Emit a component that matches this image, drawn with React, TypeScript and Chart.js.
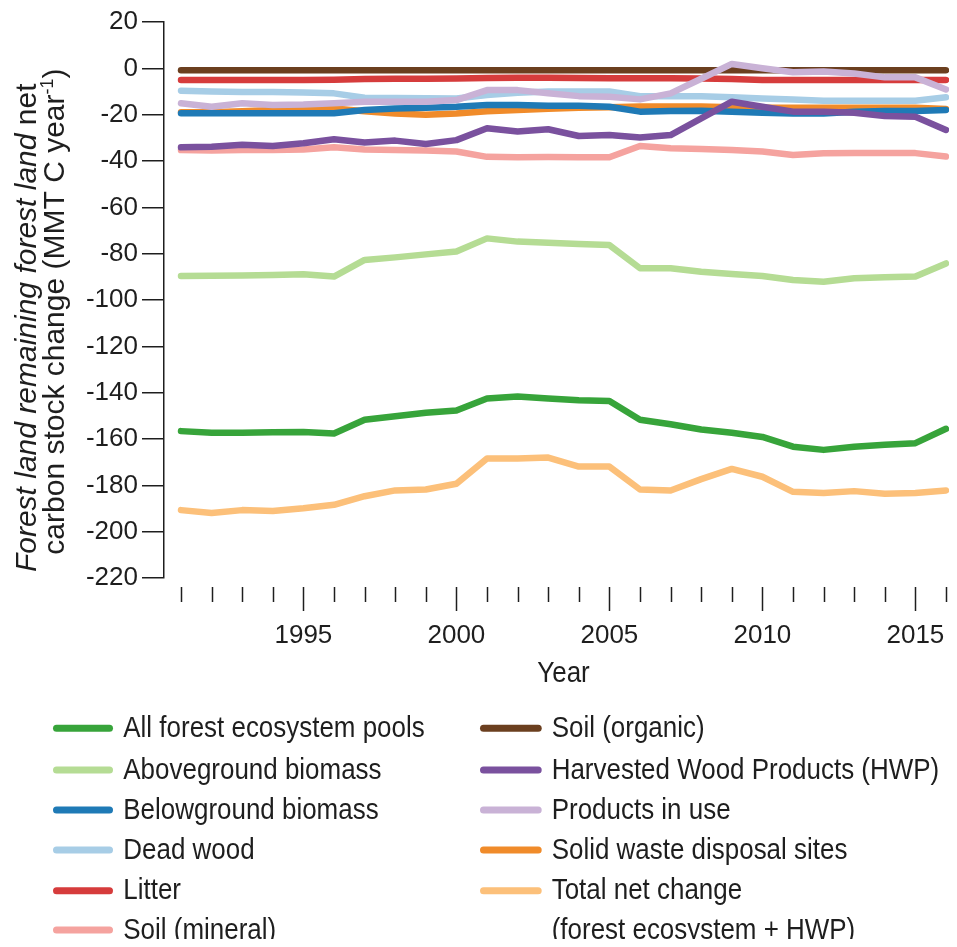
import { useEffect, useRef } from 'react';
import { Chart, registerables } from 'chart.js';

Chart.register(...registerables);

// ---------- data ----------
const YEARS = [
  1991, 1992, 1993, 1994, 1995, 1996, 1997, 1998, 1999, 2000, 2001, 2002, 2003,
  2004, 2005, 2006, 2007, 2008, 2009, 2010, 2011, 2012, 2013, 2014, 2015, 2016,
];
const X_LABEL_YEARS = [1995, 2000, 2005, 2010, 2015];
const Y_MIN = -220;
const Y_MAX = 20;
const Y_STEP = 20;

const ALL_FOREST = [
  -156.6, -157.3, -157.3, -157.1, -157.0, -157.6, -151.7, -150.2, -148.7, -147.7,
  -142.5, -141.7, -142.5, -143.3, -143.6, -151.7, -153.6, -155.9, -157.3, -159.1,
  -163.3, -164.7, -163.3, -162.5, -161.8, -155.6,
];
const ABOVEGROUND = [
  -89.6, -89.5, -89.4, -89.2, -88.9, -89.9, -82.7, -81.6, -80.3, -79.1,
  -73.4, -74.8, -75.3, -75.8, -76.3, -86.3, -86.3, -87.8, -88.8, -89.6,
  -91.4, -92.1, -90.6, -90.2, -89.9, -84.2,
];
const BELOWGROUND = [
  -19.4, -19.4, -19.4, -19.4, -19.4, -19.4, -18.0, -17.3, -17.0, -16.6,
  -15.8, -15.8, -16.1, -16.2, -16.6, -18.7, -18.4, -18.3, -18.7, -19.2,
  -19.5, -19.5, -18.7, -18.4, -18.4, -18.0,
];
const DEAD_WOOD = [
  -9.7, -10.0, -10.2, -10.2, -10.4, -10.8, -12.7, -12.8, -12.9, -13.0,
  -11.5, -10.5, -10.0, -10.0, -10.0, -12.0, -12.0, -12.0, -12.5, -13.0,
  -13.5, -14.0, -14.0, -14.0, -14.0, -12.5,
];
const LITTER = [
  -5.0, -5.0, -5.0, -5.0, -5.0, -4.9, -4.6, -4.5, -4.5, -4.4,
  -4.2, -4.1, -4.1, -4.2, -4.3, -4.3, -4.3, -4.4, -4.6, -5.0,
  -5.0, -5.0, -5.0, -5.0, -5.0, -5.0,
];
const SOIL_MINERAL = [
  -35.3, -35.5, -35.3, -35.2, -35.0, -34.1, -35.0, -35.3, -35.5, -35.9,
  -38.2, -38.4, -38.3, -38.4, -38.4, -33.5, -34.5, -34.8, -35.3, -35.9,
  -37.4, -36.7, -36.6, -36.6, -36.6, -38.1,
];
const SOIL_ORGANIC = [
  -0.8, -0.8, -0.8, -0.8, -0.8, -0.8, -0.8, -0.8, -0.8, -0.8,
  -0.8, -0.8, -0.8, -0.8, -0.8, -0.8, -0.8, -0.8, -0.8, -0.8,
  -0.8, -0.8, -0.8, -0.8, -0.8, -0.8,
];
const HWP = [
  -34.1, -33.8, -33.0, -33.5, -32.3, -30.6, -32.0, -31.2, -32.7, -31.0,
  -25.9, -27.3, -26.3, -29.2, -28.8, -29.9, -28.8, -21.6, -14.4, -16.6,
  -18.7, -18.7, -19.2, -20.6, -20.9, -26.6,
];
const PRODUCTS_IN_USE = [
  -15.1, -16.6, -15.1, -15.8, -15.6, -15.1, -14.4, -14.4, -14.4, -13.7,
  -9.4, -9.4, -10.8, -12.0, -12.3, -13.4, -10.8, -4.5, 1.9, 0.0,
  -1.7, -1.4, -2.2, -3.9, -3.9, -9.1,
];
const SOLID_WASTE = [
  -19.0, -19.0, -18.5, -18.0, -17.5, -17.3, -18.5, -19.5, -20.0, -19.5,
  -18.5, -18.0, -17.5, -17.0, -16.8, -16.5, -16.5, -16.5, -16.8, -17.0,
  -17.0, -17.0, -17.0, -17.0, -17.0, -17.5,
];
const TOTAL_NET = [
  -190.7, -191.9, -190.7, -191.1, -189.9, -188.4, -184.7, -182.2, -181.8, -179.3,
  -168.4, -168.4, -168.0, -171.9, -171.9, -181.8, -182.2, -177.3, -172.9, -176.3,
  -182.8, -183.3, -182.5, -183.6, -183.3, -182.2,
];

const LEFT_LEGEND = [
  'All forest ecosystem pools',
  'Aboveground biomass',
  'Belowground biomass',
  'Dead wood',
  'Litter',
  'Soil (mineral)',
];
const RIGHT_LEGEND = [
  'Soil (organic)',
  'Harvested Wood Products (HWP)',
  'Products in use',
  'Solid waste disposal sites',
  'Total net change\n(forest ecosystem + HWP)',
];

// ---------- styling ----------
const FONT = "'Liberation Sans', Arial, Helvetica, sans-serif";
const INK = '#1e1e1e';
const CANVAS_H = 939;
const AREA_BOTTOM = 570;
const AREA_LEFT = 156;
const LINE_W = 6.5;
const CONDENSE = 0.865;

const SERIES = [
  { label: LEFT_LEGEND[0], data: ALL_FOREST, color: '#37a43a', order: 10 },
  { label: LEFT_LEGEND[1], data: ABOVEGROUND, color: '#b5dc94', order: 9 },
  { label: LEFT_LEGEND[2], data: BELOWGROUND, color: '#1f7ab6', order: 5 },
  { label: LEFT_LEGEND[3], data: DEAD_WOOD, color: '#a7cde6', order: 7 },
  { label: LEFT_LEGEND[4], data: LITTER, color: '#d63c3c', order: 4 },
  { label: LEFT_LEGEND[5], data: SOIL_MINERAL, color: '#f5a39f', order: 8 },
  { label: RIGHT_LEGEND[0], data: SOIL_ORGANIC, color: '#6b3f1f', order: 3 },
  { label: RIGHT_LEGEND[1], data: HWP, color: '#7a519e', order: 2 },
  { label: RIGHT_LEGEND[2], data: PRODUCTS_IN_USE, color: '#c9b2d6', order: 1 },
  { label: RIGHT_LEGEND[3], data: SOLID_WASTE, color: '#f08b2a', order: 6 },
  { label: RIGHT_LEGEND[4], data: TOTAL_NET, color: '#fcc07a', order: 11 },
];

function fillCondensed(ctx: CanvasRenderingContext2D, text: string, x: number, y: number) {
  ctx.save();
  ctx.translate(x, y);
  ctx.scale(CONDENSE, 1);
  ctx.fillText(text, 0, 0);
  ctx.restore();
}

function drawRichCentered(
  ctx: CanvasRenderingContext2D,
  parts: { text: string; font: string; dy?: number }[],
  cx: number,
  baseY: number,
) {
  let total = 0;
  const widths = parts.map((p) => {
    ctx.font = p.font;
    const w = ctx.measureText(p.text).width;
    total += w;
    return w;
  });
  let x = cx - total / 2;
  parts.forEach((p, i) => {
    ctx.font = p.font;
    ctx.fillText(p.text, x, baseY + (p.dy || 0));
    x += widths[i];
  });
}

const decorPlugin = {
  id: 'decor',
  afterDraw(chart: any) {
    const { ctx, chartArea } = chart;
    const xs = chart.scales.x;
    const ys = chart.scales.y;
    ctx.save();
    ctx.strokeStyle = INK;
    ctx.fillStyle = INK;
    ctx.lineWidth = 1.5;

    // x tick marks (offset below the plot)
    const tickTop = chartArea.bottom + 9;
    YEARS.forEach((yr) => {
      const px = Math.round(xs.getPixelForValue(yr)) + 0.5;
      const len = yr % 5 === 0 ? 24 : 15;
      ctx.beginPath();
      ctx.moveTo(px, tickTop);
      ctx.lineTo(px, tickTop + len);
      ctx.stroke();
    });

    // x title
    ctx.textAlign = 'center';
    ctx.textBaseline = 'alphabetic';
    ctx.font = `30px ${FONT}`;
    fillCondensed(ctx, 'Year', (chartArea.left + chartArea.right) / 2 + 7, chartArea.bottom + 104);

    // y title (rotated, two lines, mixed styles)
    const c1 = ys.getPixelForValue(-112);
    const c2 = ys.getPixelForValue(-105);
    ctx.textAlign = 'left';
    ctx.save();
    ctx.translate(28, c1);
    ctx.rotate(-Math.PI / 2);
    drawRichCentered(
      ctx,
      [
        { text: 'Forest land remaining forest land', font: `italic 30px ${FONT}` },
        { text: ' net', font: `30px ${FONT}` },
      ],
      0,
      0,
    );
    ctx.restore();
    ctx.save();
    ctx.translate(56, c2);
    ctx.rotate(-Math.PI / 2);
    drawRichCentered(
      ctx,
      [
        { text: 'carbon stock change (MMT C year', font: `30px ${FONT}` },
        { text: '-1', font: `18px ${FONT}`, dy: -11 },
        { text: ')', font: `30px ${FONT}` },
      ],
      0,
      0,
    );
    ctx.restore();

    // legend
    const rows = [720.3, 762, 802, 842, 882.7, 922];
    const cols = [
      { lineX0: 45, lineX1: 105, textX: 115.3 },
      { lineX0: 472, lineX1: 533.7, textX: 543.7 },
    ];
    const leftCount = LEFT_LEGEND.length;
    chart.data.datasets.forEach((ds: any, i: number) => {
      const col = i < leftCount ? cols[0] : cols[1];
      const row = i < leftCount ? i : i - leftCount;
      const cy = rows[row];
      ctx.lineCap = 'round';
      ctx.lineWidth = 7;
      ctx.strokeStyle = ds.borderColor;
      ctx.beginPath();
      ctx.moveTo(col.lineX0 + 3.5, cy);
      ctx.lineTo(col.lineX1 - 3.5, cy);
      ctx.stroke();
      ctx.fillStyle = INK;
      ctx.font = `30px ${FONT}`;
      ctx.textAlign = 'left';
      ctx.textBaseline = 'alphabetic';
      String(ds.label)
        .split('\n')
        .forEach((line: string, k: number) => {
          fillCondensed(ctx, line, col.textX, rows[row + k] + 8.5);
        });
    });
    ctx.restore();
  },
};

export default function App() {
  const ref = useRef<HTMLCanvasElement>(null);
  useEffect(() => {
    if (!ref.current) return;
    const chart = new Chart(ref.current, {
      type: 'line',
      data: {
        datasets: SERIES.map((s) => ({
          label: s.label,
          data: YEARS.map((yr, i) => ({ x: yr, y: s.data[i] })),
          borderColor: s.color,
          backgroundColor: s.color,
          borderWidth: LINE_W,
          borderCapStyle: 'round',
          borderJoinStyle: 'round',
          pointRadius: 0,
          tension: 0,
          order: s.order,
        })),
      },
      options: {
        animation: false,
        responsive: true,
        maintainAspectRatio: false,
        layout: { padding: { top: 14, left: 0, right: 0, bottom: 0 } },
        plugins: { legend: { display: false }, tooltip: { enabled: false } },
        scales: {
          x: {
            type: 'linear',
            min: 1990.444,
            max: 2016.098,
            afterBuildTicks: (s: any) => {
              s.ticks = X_LABEL_YEARS.map((v) => ({ value: v }));
            },
            afterFit: (s: any) => {
              s.height = CANVAS_H - AREA_BOTTOM;
              s.paddingLeft = 0;
              s.paddingRight = 0;
            },
            ticks: {
              autoSkip: false,
              maxRotation: 0,
              padding: 45,
              color: INK,
              font: { family: FONT, size: 26, lineHeight: 1 },
              callback: (v: any) => String(v),
            },
            grid: { display: false, drawTicks: false },
            border: { display: false },
          },
          y: {
            min: Y_MIN,
            max: Y_MAX,
            afterFit: (s: any) => {
              s.width = AREA_LEFT;
              s.paddingTop = 0;
              s.paddingBottom = 0;
            },
            ticks: {
              stepSize: Y_STEP,
              padding: 4,
              color: INK,
              font: { family: FONT, size: 26, lineHeight: 1 },
            },
            grid: {
              drawOnChartArea: false,
              drawTicks: true,
              tickLength: 22,
              color: INK,
              lineWidth: 1.5,
            },
            border: { display: true, color: INK, width: 1.5 },
          },
        },
      },
      plugins: [decorPlugin],
    });
    return () => chart.destroy();
  }, []);
  return (
    <div style={{ position: 'relative', width: '100%', height: CANVAS_H, marginBottom: -8 }}>
      <canvas ref={ref} />
    </div>
  );
}
